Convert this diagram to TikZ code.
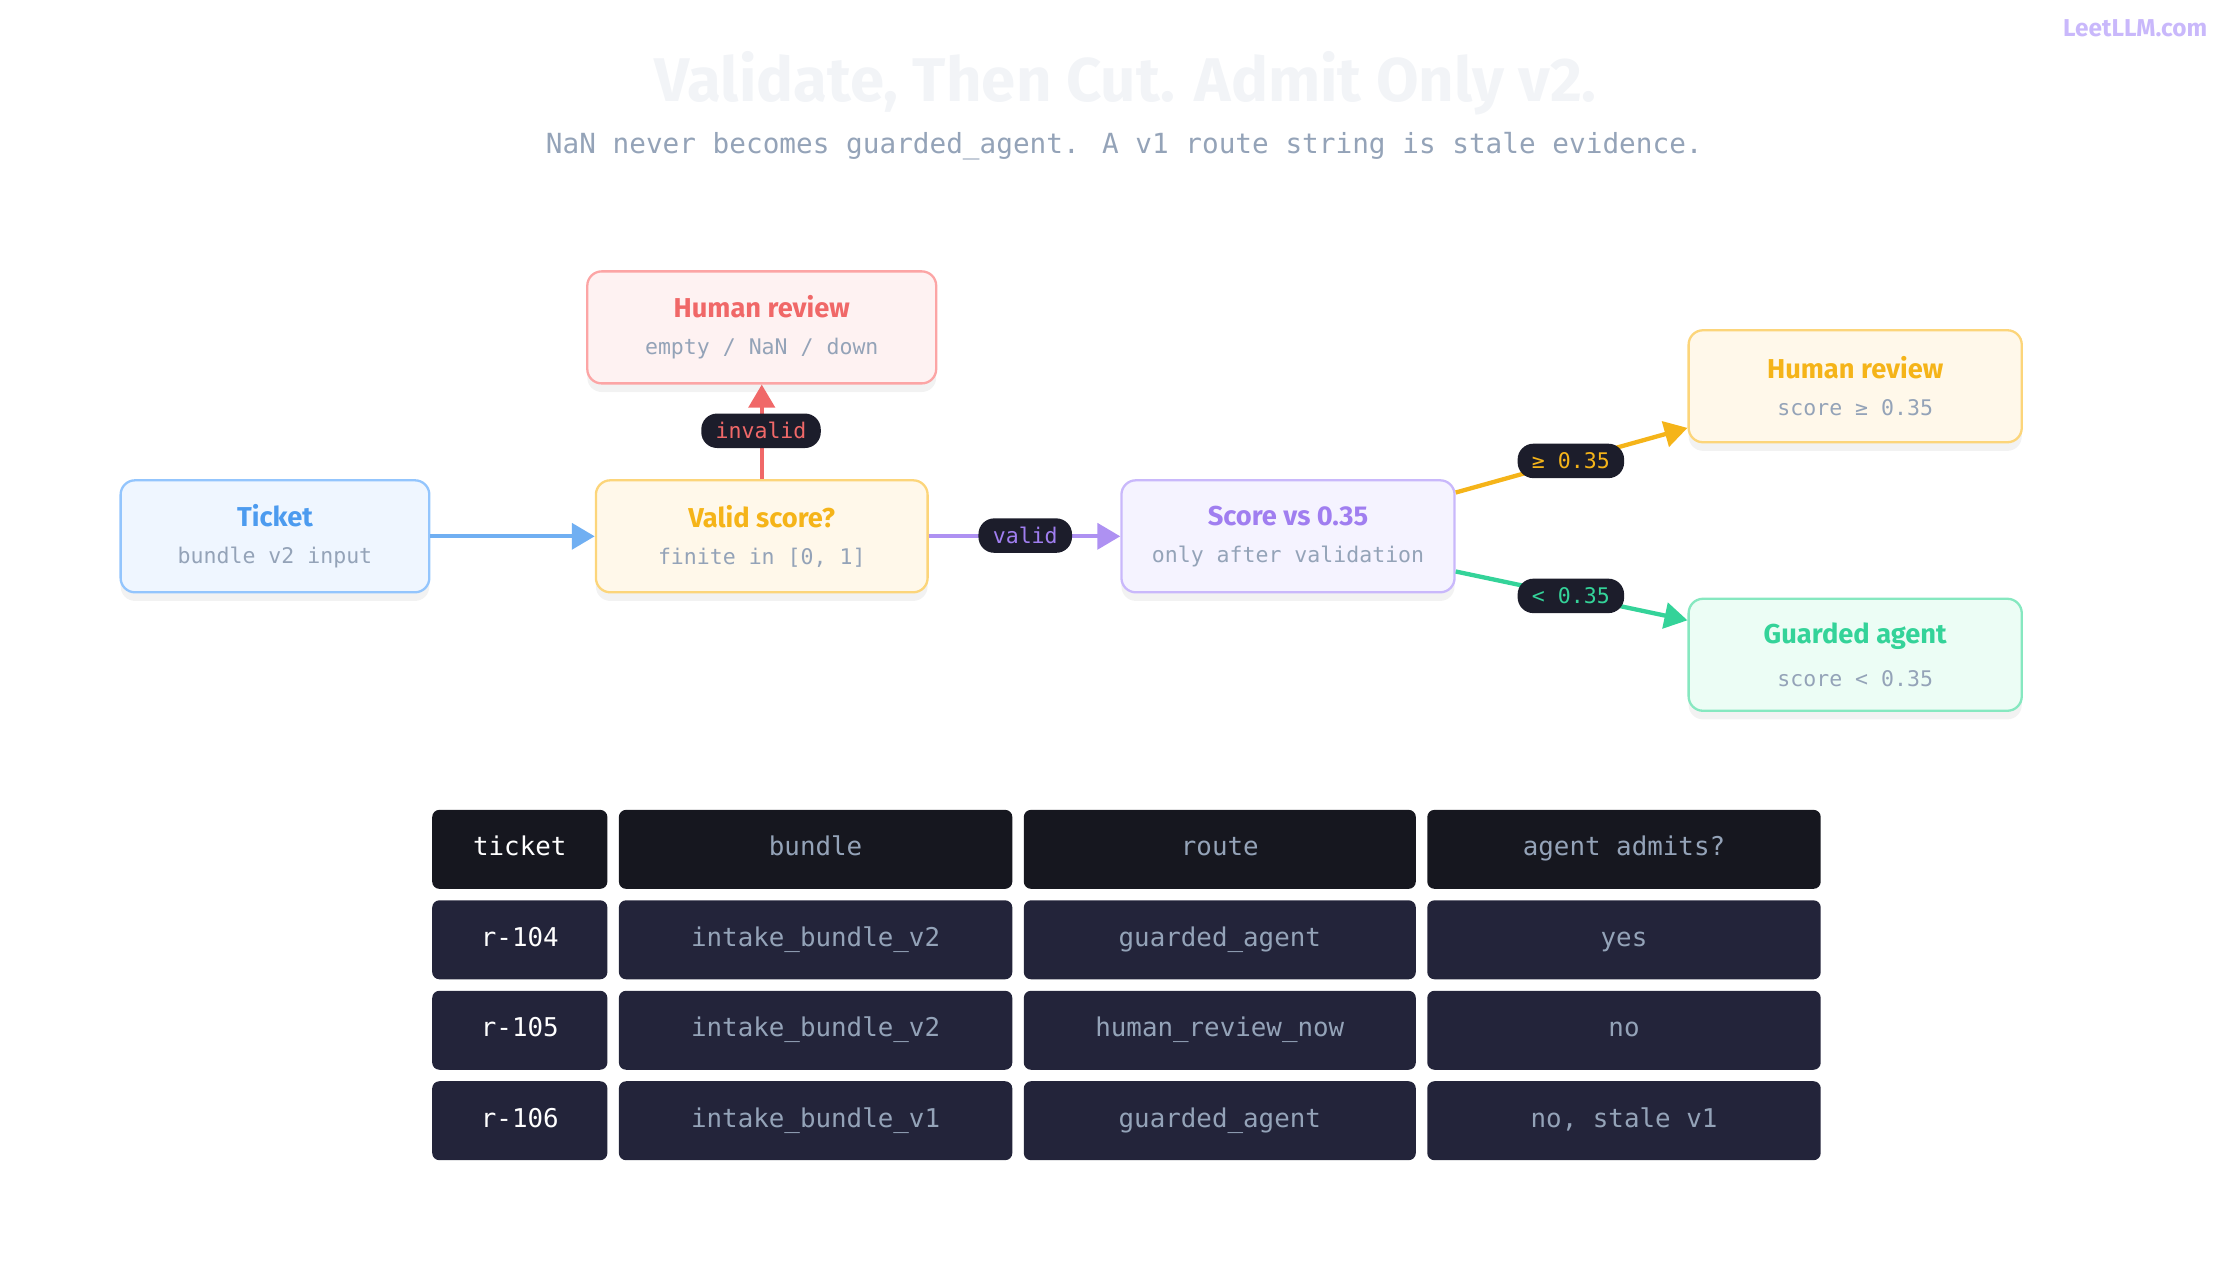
\documentclass[tikz,border=0pt]{standalone}
\usepackage{fontspec}
\setmainfont{Fira Sans}
\newfontfamily\monofont{DejaVu Sans Mono}
\usetikzlibrary{shadows,arrows.meta}
\definecolor{slate}{HTML}{94A3B8}
\definecolor{pill}{HTML}{1C1D2B}
\definecolor{headbg}{HTML}{16171F}
\definecolor{rowbg}{HTML}{23243A}
\definecolor{blueT}{HTML}{4C9BEF}\definecolor{blueB}{HTML}{93C5FD}\definecolor{blueF}{HTML}{EFF6FF}
\definecolor{yelT}{HTML}{F5B419}\definecolor{yelB}{HTML}{FCD57A}\definecolor{yelF}{HTML}{FFF8EA}
\definecolor{redT}{HTML}{F06868}\definecolor{redB}{HTML}{FCA5A5}\definecolor{redF}{HTML}{FEF2F2}
\definecolor{purT}{HTML}{A07EF0}\definecolor{purB}{HTML}{C9B8FB}\definecolor{purF}{HTML}{F5F3FF}
\definecolor{grnT}{HTML}{34D399}\definecolor{grnB}{HTML}{86E8C0}\definecolor{grnF}{HTML}{ECFDF5}
\tikzset{
  box/.style={draw=#1B, fill=#1F, line width=1.6pt, rounded corners=10pt,
    minimum height=78pt, align=center, drop shadow={opacity=0.10, shadow xshift=0pt, shadow yshift=-6pt}},
  lbl/.style={fill=pill, rounded corners=11pt, minimum height=24pt, inner xsep=10pt,
    font=\monofont\fontsize{15}{15}\selectfont},
  flow/.style={line width=3pt, -{Triangle[length=16pt,width=18pt]}},
  cell/.style={fill=#1, rounded corners=5pt, minimum height=55pt, inner sep=0pt,
    text height=13pt, text depth=4pt, font=\monofont\fontsize{18}{18}\selectfont}
}
\newcommand{\boxtext}[3]{{\bfseries\fontsize{19}{24}\selectfont\color{#1}#2}\\[14pt]{\monofont\fontsize{15}{18}\selectfont\color{slate}#3}}
\begin{document}
\begin{tikzpicture}[x=1pt,y=-1pt]
  \useasboundingbox (0,0) rectangle (1560,891);

  % heading
  \node[font=\bfseries\fontsize{43}{43}\selectfont, text=slate!12] (title) at (784,58) {Validate, Then Cut. Admit Only v2.};
  \node[font=\monofont\fontsize{19.3}{19}\selectfont, text=slate] (sub) at (783,102) {NaN never becomes guarded\_agent. A v1 route string is stale evidence.};
  \node[font=\bfseries\fontsize{17}{17}\selectfont, text=purB] (brand) at (1487,20) {LeetLLM.com};

  % flow nodes
  \node[box=blue, minimum width=215pt] (ticket) at (191.5,373.5) {\boxtext{blueT}{Ticket}{bundle v2 input}};
  \node[box=yel, minimum width=231pt] (valid) at (530.5,373.5) {\boxtext{yelT}{Valid score?}{finite in [0, 1]}};
  \node[box=red, minimum width=243pt] (review) at (530.5,228) {\boxtext{redT}{Human review}{empty / NaN / down}};
  \node[box=pur, minimum width=232pt] (score) at (897,373.5) {\boxtext{purT}{Score vs 0.35}{only after validation}};
  \node[box=yel, minimum width=232pt] (high) at (1292,269) {\boxtext{yelT}{Human review}{score ≥ 0.35}};
  \node[box=grn, minimum width=232pt] (guard) at (1292,456) {\boxtext{grnT}{Guarded agent}{score < 0.35}};

  % connectors
  \draw[flow, blueT!80] (ticket) -- (valid);
  \draw[flow, redT] (valid) -- (review);
  \draw[flow, purT!85] (valid) -- (score);
  \draw[flow, yelT] (score.east |- 0,343) -- (high.west |- 0,298);
  \draw[flow, grnT] (score.east |- 0,398) -- (guard.west |- 0,432);

  \node[lbl, text=redT] (linv) at (530,300) {invalid};
  \node[lbl, text=purT] (lval) at (714,373) {valid};
  \node[lbl, text=yelT] (lhi) at (1094,321) {≥ 0.35};
  \node[lbl, text=grnT] (llo) at (1094,415) {< 0.35};

  % table
  \foreach \y/\a/\b/\c/\d/\bg [count=\r] in {
      591.5/ticket/bundle/route/agent admits?/headbg,
      654.5/r-104/intake\_bundle\_v2/guarded\_agent/yes/rowbg,
      717.5/r-105/intake\_bundle\_v2/human\_review\_now/no/rowbg,
      780.5/r-106/intake\_bundle\_v1/guarded\_agent/{no, stale v1}/rowbg} {
    \node[cell=\bg, minimum width=122pt, text=white] (c\r a) at (362,\y) {\a};
    \node[cell=\bg, minimum width=274pt, text=slate] (c\r b) at (568,\y) {\b};
    \node[cell=\bg, minimum width=273pt, text=slate] (c\r c) at (849.5,\y) {\c};
    \node[cell=\bg, minimum width=274pt, text=slate] (c\r d) at (1131,\y) {\d};
  }
\end{tikzpicture}
\end{document}
